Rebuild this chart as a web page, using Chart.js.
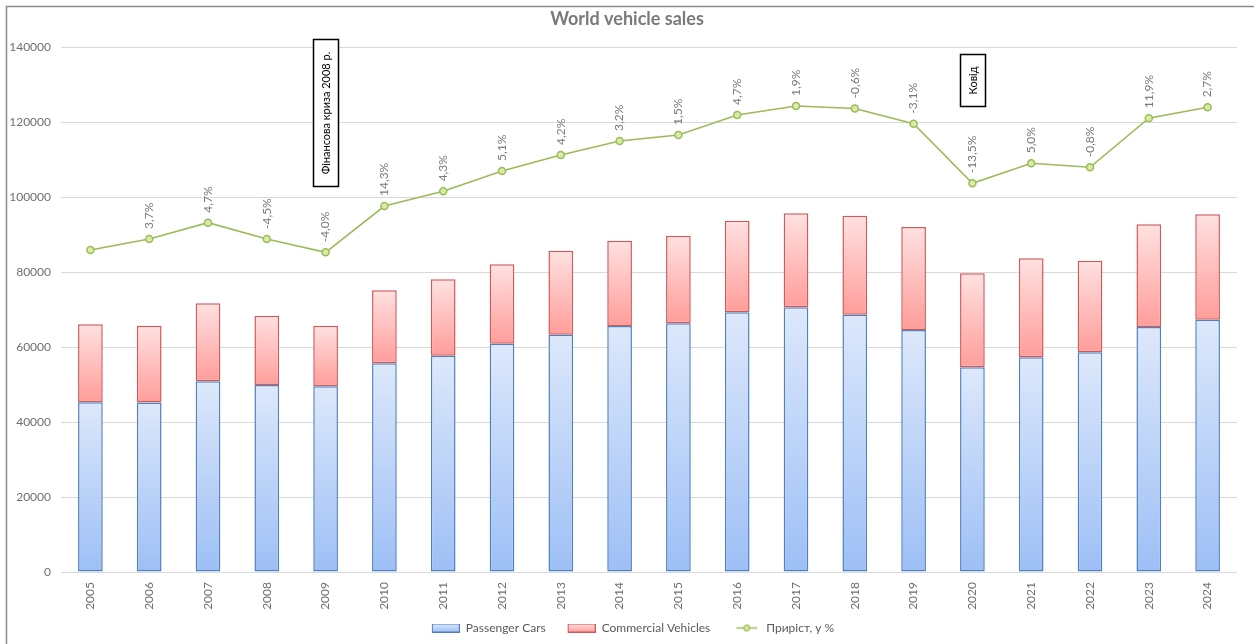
<!DOCTYPE html>
<html>
<head>
<meta charset="utf-8">
<title>World vehicle sales</title>
<script src="https://cdn.jsdelivr.net/npm/chart.js@4.4.1/dist/chart.umd.min.js"></script>
<style>
  html, body { margin: 0; padding: 0; background: #ffffff; }
  #wrap { position: relative; width: 1254px; height: 644px; }
  canvas { display: block; }
</style>
</head>
<body>
<div id="wrap"><canvas id="chart" width="1254" height="644"></canvas></div>
<script>
// ---- data (thousand units) ----
const years = ['2005', '2006', '2007', '2008', '2009', '2010', '2011', '2012', '2013', '2014',
               '2015', '2016', '2017', '2018', '2019', '2020', '2021', '2022', '2023', '2024'];

const passengerCars = [45300, 45200, 50850, 49870, 49510, 55640, 57690, 60890, 63290, 65600,
                       66310, 69240, 70580, 68580, 64530, 54580, 57240, 58580, 65330, 67290];

const commercialVehicles = [20750, 20500, 20800, 18480, 16190, 19470, 20350, 21150, 22400, 22760,
                            23380, 24450, 25070, 26440, 27470, 25060, 26400, 24440, 27380, 28090];

// growth index line (same scale as the bars)
const growthIndex = [85870, 88800, 93160, 88800, 85250, 97600, 101510, 106930, 111200, 114930,
                     116530, 121870, 124270, 123600, 119550, 103650, 108980, 107920, 121020, 123910];

// year-on-year growth, %
const growthPct = [null, 3.7, 4.7, -4.5, -4.0, 14.3, 4.3, 5.1, 4.2, 3.2,
                   1.5, 4.7, 1.9, -0.6, -3.1, -13.5, 5.0, -0.8, 11.9, 2.7];

const seriesNames = ['Passenger Cars', 'Commercial Vehicles', 'Приріст, у %'];

// event call-outs placed over the years they refer to
const callouts = [
  { year: '2009', text: 'Фінансова криза 2008 р.', top: 142000 },
  { year: '2020', text: 'Ковід', top: 138000 }
];

// ---- styling ----
const FONT = 'Lato, "Open Sans", "Noto Sans", sans-serif';
const TEXT_GRAY = '#6f6f6f';
const BLUE = { top: '#dde8fb', bottom: '#9dbff6', border: '#4f81bd' };
const RED  = { top: '#ffe1e1', bottom: '#ff9d9a', border: '#d05a57' };
const GREEN = { line: '#9bbb59', fill: '#d8eca6' };

Chart.defaults.font.family = FONT;
Chart.defaults.color = TEXT_GRAY;

const fmtPct = v => v.toFixed(1).replace('.', ',') + '%';

// vertical gradient for one stacked segment, computed from the data through the y scale
function segmentFill(palette, lowerOf, valueOf) {
  return (c) => {
    const chart = c.chart;
    const y = chart.scales && chart.scales.y;
    if (!chart.chartArea || !y || c.dataIndex === undefined) return palette.bottom;
    const i = c.dataIndex;
    const base = lowerOf(i);
    const top = base + valueOf(i);
    const y0 = y.getPixelForValue(top);
    const y1 = y.getPixelForValue(base);
    if (!isFinite(y0) || !isFinite(y1) || y1 - y0 < 1) return palette.bottom;
    const g = chart.ctx.createLinearGradient(0, y0, 0, y1);
    g.addColorStop(0, palette.top);
    g.addColorStop(1, palette.bottom);
    return g;
  };
}

// legend swatches: 40px slot, swatch drawn in its right 28px so items get extra spacing
const SLOT = 40;
function barSwatch(p) {
  const cv = document.createElement('canvas');
  cv.width = SLOT; cv.height = 9;
  const x = cv.getContext('2d');
  const g = x.createLinearGradient(0, 0, 0, 9);
  g.addColorStop(0, p.top); g.addColorStop(1, p.bottom);
  x.fillStyle = g; x.fillRect(SLOT - 27.5, 0.5, 27, 8);
  x.strokeStyle = p.border; x.lineWidth = 1; x.strokeRect(SLOT - 27.5, 0.5, 27, 8);
  return cv;
}
function lineSwatch() {
  const cv = document.createElement('canvas');
  cv.width = SLOT; cv.height = 9;
  const x = cv.getContext('2d');
  x.strokeStyle = GREEN.line; x.lineWidth = 1.5;
  x.beginPath(); x.moveTo(SLOT - 24, 4.5); x.lineTo(SLOT - 3, 4.5); x.stroke();
  x.beginPath(); x.arc(SLOT - 13.5, 4.5, 2.8, 0, Math.PI * 2);
  x.fillStyle = GREEN.fill; x.fill(); x.lineWidth = 1.2; x.stroke();
  return cv;
}
const swatches = [barSwatch(BLUE), barSwatch(RED), lineSwatch()];

// outer frame of the chart
const framePlugin = {
  id: 'frame',
  beforeDraw(chart) {
    const ctx = chart.ctx;
    ctx.save();
    ctx.fillStyle = '#ffffff';
    ctx.fillRect(0, 0, chart.width, chart.height);
    ctx.strokeStyle = '#8c8c8c';
    ctx.lineWidth = 1.5;
    ctx.beginPath();
    ctx.moveTo(6.5, chart.height);
    ctx.lineTo(6.5, 6.5);
    ctx.lineTo(chart.width, 6.5);
    ctx.stroke();
    ctx.restore();
  }
};

// rotated growth labels above the line points
const growthLabelPlugin = {
  id: 'growthLabels',
  afterDatasetsDraw(chart) {
    const meta = chart.getDatasetMeta(2);
    if (!meta || meta.hidden) return;
    const ctx = chart.ctx;
    ctx.save();
    ctx.font = '12px ' + FONT;
    ctx.fillStyle = '#7a7a7a';
    ctx.textAlign = 'left';
    ctx.textBaseline = 'middle';
    meta.data.forEach((pt, i) => {
      if (growthPct[i] === null) return;
      ctx.save();
      ctx.translate(pt.x, pt.y - 10);
      ctx.rotate(-Math.PI / 2);
      ctx.fillText(fmtPct(growthPct[i]), 0, 0);
      ctx.restore();
    });
    ctx.restore();
  }
};

// boxed vertical call-outs
const calloutPlugin = {
  id: 'callouts',
  afterDraw(chart) {
    const ctx = chart.ctx;
    const xs = chart.scales.x, ys = chart.scales.y;
    ctx.save();
    ctx.font = '11px ' + FONT;
    callouts.forEach(n => {
      const cx = xs.getPixelForValue(years.indexOf(n.year));
      const top = ys.getPixelForValue(n.top);
      const tw = ctx.measureText(n.text).width;
      const h = Math.round(tw + 24), w = 25;
      const left = Math.round(cx - w / 2) + 0.5;
      ctx.fillStyle = '#ffffff';
      ctx.fillRect(left, top, w, h);
      ctx.strokeStyle = '#000000';
      ctx.lineWidth = 1.5;
      ctx.strokeRect(left, top, w, h);
      ctx.save();
      ctx.translate(left + w / 2, top + h / 2);
      ctx.rotate(-Math.PI / 2);
      ctx.fillStyle = '#000000';
      ctx.textAlign = 'center';
      ctx.textBaseline = 'middle';
      ctx.fillText(n.text, 0, 0);
      ctx.restore();
    });
    ctx.restore();
  }
};

new Chart(document.getElementById('chart'), {
  data: {
    labels: years,
    datasets: [
      {
        type: 'bar',
        label: seriesNames[0],
        data: passengerCars,
        stack: 'sales',
        backgroundColor: segmentFill(BLUE, () => 0, i => passengerCars[i]),
        borderColor: BLUE.border,
        borderWidth: 1.5,
        borderSkipped: false,
        categoryPercentage: 1,
        barPercentage: 0.42,
        yAxisID: 'y'
      },
      {
        type: 'bar',
        label: seriesNames[1],
        data: commercialVehicles,
        stack: 'sales',
        backgroundColor: segmentFill(RED, i => passengerCars[i], i => commercialVehicles[i]),
        borderColor: RED.border,
        borderWidth: 1.5,
        borderSkipped: false,
        categoryPercentage: 1,
        barPercentage: 0.42,
        yAxisID: 'y'
      },
      {
        type: 'line',
        label: seriesNames[2],
        data: growthIndex,
        yAxisID: 'yLine',
        borderColor: GREEN.line,
        borderWidth: 1.6,
        tension: 0,
        pointRadius: 3.5,
        pointBackgroundColor: GREEN.fill,
        pointBorderColor: GREEN.line,
        pointBorderWidth: 1.5
      }
    ]
  },
  options: {
    responsive: false,
    animation: false,
    layout: { padding: { left: 0, right: 0, top: 0, bottom: 0 } },
    scales: {
      x: {
        grid: { display: false, drawTicks: false },
        border: { display: false },
        ticks: {
          minRotation: 90, maxRotation: 90, padding: 10, autoSkip: false,
          color: TEXT_GRAY, font: { size: 12, family: FONT }
        },
        afterFit: s => { s.height = 40; }
      },
      y: {
        stacked: true,
        min: 0, max: 140000,
        ticks: {
          stepSize: 20000, padding: 10, color: TEXT_GRAY,
          font: { size: 12, family: FONT },
          callback: v => String(v)
        },
        grid: { color: '#d9d9d9', lineWidth: 1, drawTicks: false },
        border: { display: false },
        afterFit: s => { s.width = 61; }
      },
      yLine: {
        position: 'right',
        min: 0, max: 140000,
        ticks: { display: false },
        grid: { display: false, drawTicks: false },
        border: { display: false },
        afterFit: s => { s.width = 17; }
      }
    },
    plugins: {
      title: {
        display: true,
        text: 'World vehicle sales',
        color: '#7a7a7a',
        font: { size: 18, family: FONT, weight: 'bold', lineHeight: 1.2 },
        padding: { top: 8, bottom: 17.4 }
      },
      legend: {
        position: 'bottom',
        labels: {
          usePointStyle: true,
          pointStyleWidth: SLOT,
          boxHeight: 9,
          padding: 10,
          color: '#595959',
          font: { size: 12, family: FONT },
          generateLabels: chart => chart.data.datasets.map((ds, i) => ({
            text: ds.label,
            pointStyle: swatches[i],
            datasetIndex: i,
            hidden: !chart.isDatasetVisible(i),
            fontColor: '#595959',
            lineWidth: 0,
            strokeStyle: 'rgba(0,0,0,0)',
            fillStyle: 'rgba(0,0,0,0)'
          }))
        }
      },
      tooltip: { enabled: false }
    }
  },
  plugins: [framePlugin, growthLabelPlugin, calloutPlugin]
});
</script>
</body>
</html>
